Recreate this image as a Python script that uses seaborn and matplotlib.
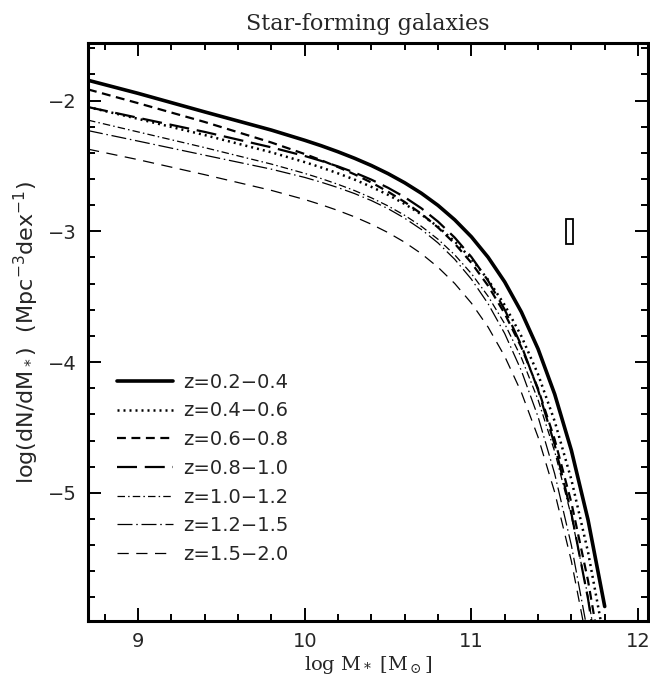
import numpy as np
import pandas as pd
import seaborn as sns
import matplotlib.pyplot as plt
from matplotlib.patches import Rectangle
from matplotlib.ticker import MultipleLocator

# log stellar mass grid
logm = [8.7, 9.0, 9.4, 9.8, 10.0, 10.1, 10.2, 10.3, 10.4, 10.5, 10.6, 10.7,
        10.8, 10.9, 11.0, 11.1, 11.2, 11.3, 11.4, 11.5, 11.6, 11.7, 11.8]

z02_04 = [-1.845, -1.945, -2.087, -2.226, -2.304, -2.346, -2.392, -2.442,
          -2.497, -2.559, -2.629, -2.709, -2.802, -2.912, -3.042, -3.198,
          -3.387, -3.617, -3.899, -4.246, -4.675, -5.207, -5.869]
z04_06 = [-2.050, -2.140, -2.264, -2.396, -2.471, -2.512, -2.557, -2.605,
          -2.660, -2.721, -2.791, -2.871, -2.966, -3.077, -3.210, -3.370,
          -3.564, -3.802, -4.093, -4.453, -4.899, -5.453, -6.143]
z06_08 = [-1.915, -2.020, -2.164, -2.321, -2.409, -2.457, -2.509, -2.565,
          -2.627, -2.697, -2.776, -2.866, -2.971, -3.094, -3.241, -3.416,
          -3.629, -3.887, -4.203, -4.593, -5.075, -5.672, -6.416]
z08_10 = [-2.050, -2.132, -2.240, -2.358, -2.424, -2.462, -2.504, -2.551,
          -2.605, -2.667, -2.739, -2.824, -2.926, -3.048, -3.196, -3.377,
          -3.599, -3.873, -4.212, -4.633, -5.157, -5.811, -6.630]
z10_12 = [-2.150, -2.240, -2.360, -2.486, -2.557, -2.597, -2.641, -2.689,
          -2.744, -2.806, -2.878, -2.962, -3.061, -3.180, -3.323, -3.496,
          -3.707, -3.967, -4.288, -4.685, -5.179, -5.794, -6.562]
z12_15 = [-2.230, -2.310, -2.418, -2.525, -2.588, -2.625, -2.666, -2.712,
          -2.765, -2.827, -2.900, -2.986, -3.089, -3.214, -3.366, -3.553,
          -3.782, -4.066, -4.418, -4.855, -5.401, -6.083, -6.800]
z15_20 = [-2.372, -2.452, -2.567, -2.687, -2.757, -2.797, -2.841, -2.890,
          -2.946, -3.010, -3.084, -3.171, -3.275, -3.399, -3.549, -3.732,
          -3.956, -4.232, -4.573, -4.996, -5.522, -6.178, -6.900]

labels = ['z=0.2\u22120.4', 'z=0.4\u22120.6', 'z=0.6\u22120.8', 'z=0.8\u22121.0',
          'z=1.0\u22121.2', 'z=1.2\u22121.5', 'z=1.5\u22122.0']
series = [z02_04, z04_06, z06_08, z08_10, z10_12, z12_15, z15_20]

styles = [
    dict(lw=2.6, linestyle='-'),
    dict(lw=1.8, linestyle=(0, (0.8, 1.6))),
    dict(lw=1.6, linestyle=(0, (4, 2.5))),
    dict(lw=1.6, linestyle=(0, (9, 3.5))),
    dict(lw=0.9, linestyle=(0, (6, 2.5, 1.2, 2.5))),
    dict(lw=0.9, linestyle=(0, (12, 3, 1.2, 3))),
    dict(lw=0.9, linestyle=(0, (9, 6))),
]

# error box
box_x = 11.59
box_w = 0.045
box_y = -3.0
box_h = 0.19

sns.set_style('ticks')
plt.rcParams['font.family'] = ['DejaVu Sans']

fig = plt.figure(figsize=(6.5, 6.79), dpi=100)
ax = fig.add_axes([0.1354, 0.0854, 0.8616, 0.8513])

for ys, lab, st in zip(series, labels, styles):
    df = pd.DataFrame({'logm': logm, 'phi': ys})
    sns.lineplot(data=df, x='logm', y='phi', color='black', label=lab,
                 estimator=None, sort=False, ax=ax, legend=False, **st)

ax.add_patch(Rectangle((box_x - box_w / 2, box_y - box_h / 2), box_w, box_h,
                       facecolor='white', edgecolor='black', lw=1.3, zorder=5))

ax.set_xlim(8.7, 12.06)
ax.set_ylim(-5.98, -1.56)
ax.xaxis.set_major_locator(MultipleLocator(1))
ax.xaxis.set_minor_locator(MultipleLocator(0.2))
ax.yaxis.set_major_locator(MultipleLocator(1))
ax.yaxis.set_minor_locator(MultipleLocator(0.2))
ax.tick_params(which='both', direction='in', top=True, right=True,
               color='black', width=1.4)
ax.tick_params(which='major', length=9.5, labelsize=14, pad=8)
ax.tick_params(which='minor', length=5)
for sp in ax.spines.values():
    sp.set_linewidth(2.2)
    sp.set_color('black')

ax.set_title('Star-forming galaxies', family='DejaVu Serif', fontsize=16, pad=9)
ax.set_xlabel(r'log M$_*$ [M$_\odot$]', family='DejaVu Serif',
              math_fontfamily='dejavuserif', fontsize=14, labelpad=2)
ax.set_ylabel(r'log(dN/dM$_*$)  (Mpc$^{-3}$dex$^{-1}$)', fontsize=16,
              labelpad=5)

handles, labs = ax.get_legend_handles_labels()
ax.legend(handles, labs, loc='upper left', bbox_to_anchor=(0.02, 0.46),
          frameon=False, fontsize=14, handlelength=2.9, labelspacing=0.5,
          handletextpad=0.5)

fig.savefig('out.png', dpi=100)
